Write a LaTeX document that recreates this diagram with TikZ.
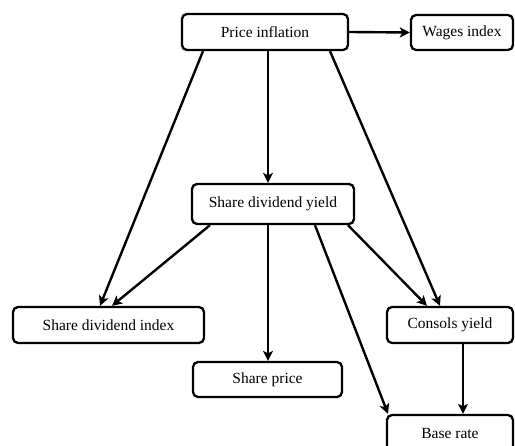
\documentclass[tikz,border=0pt]{standalone}
\usepackage{fontspec}
\setmainfont{Liberation Serif}
\usetikzlibrary{arrows.meta,calc}
\begin{document}
\begin{tikzpicture}[x=1pt,y=-1pt,
  box/.style={draw=black,line width=2.3pt,rounded corners=5pt,inner sep=0pt,
    font=\fontsize{15.5}{18}\selectfont,text=black,fill=white},
  arr/.style={line width=2.4pt,-{Stealth[length=10pt,width=10pt,inset=2.5pt]}}]
\clip (0,0) rectangle (515,446);
\fill[white] (0,0) rectangle (515,446);
\node[box,minimum width=166pt,minimum height=36pt] (pi) at (265,32) {Price inflation};
\node[box,minimum width=102pt,minimum height=35pt] (wi) at (462,32.5) {Wages index};
\node[box,minimum width=162pt,minimum height=40pt] (sdy) at (273,204) {Share dividend yield};
\node[box,minimum width=191pt,minimum height=36pt] (sdi) at (108.5,325) {Share dividend index};
\node[box,minimum width=126pt,minimum height=36pt] (cy) at (450,325) {Consols yield};
\node[box,minimum width=149pt,minimum height=35pt] (sp) at (267.5,379.5) {Share price};
\node[box,minimum width=126pt,minimum height=37pt,text depth=0pt] (br) at (450,433.5) {Base rate};
\draw[arr] (pi.east) -- (wi.west);
\draw[arr] ([xshift=-62pt]pi.south) -- ([xshift=-8.5pt]sdi.north);
\draw[arr] ([xshift=3pt]pi.south) -- ([xshift=-5pt]sdy.north);
\draw[arr] ([xshift=65pt]pi.south) -- ([xshift=-10pt]cy.north);
\draw[arr] ([xshift=-63pt]sdy.south) -- ([xshift=3.5pt]sdi.north);
\draw[arr] ([xshift=-5pt]sdy.south) -- ([xshift=0.5pt]sp.north);
\draw[arr] ([xshift=75pt]sdy.south) -- ([xshift=-23pt]cy.north);
\draw[arr] ([xshift=42pt]sdy.south) -- ([xshift=-62pt]br.north);
\draw[arr] ([xshift=13pt]cy.south) -- ([xshift=13pt]br.north);
\end{tikzpicture}
\end{document}
